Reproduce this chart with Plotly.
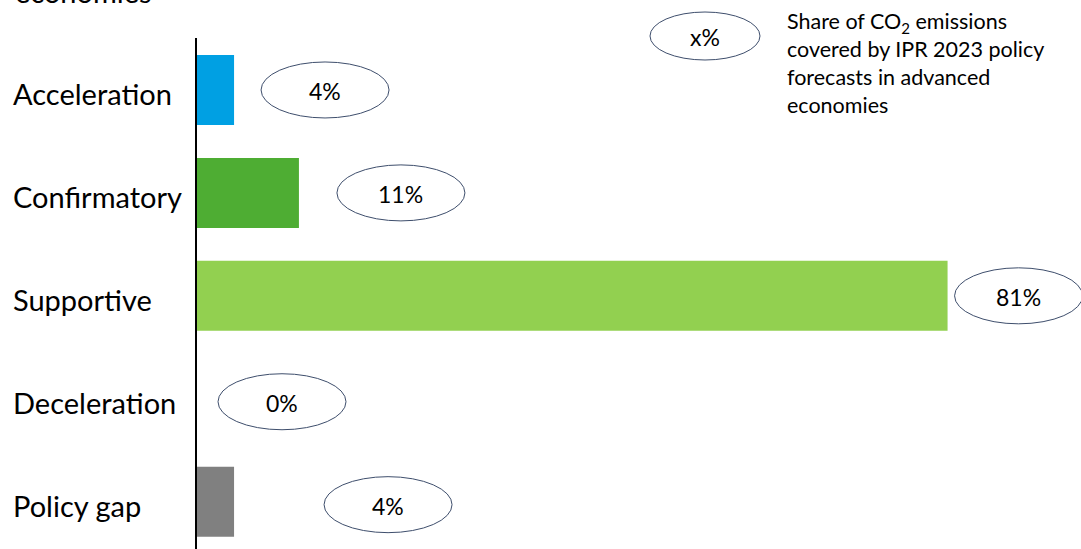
import plotly.graph_objects as go

# ---- data ----
categories = ["Acceleration", "Confirmatory", "Supportive", "Deceleration", "Policy gap"]
values = [4, 11, 81, 0, 4]
value_labels = ["4%", "11%", "81%", "0%", "4%"]
bar_colors = ["#00A0E3", "#4EAD33", "#92D050", "#FFFFFF", "#808080"]

# ---- styling / layout tweaks (pixel offsets of the ellipse label from the bar end; dy downward) ----
label_dx = [91, 102, 71, 85, 154]
label_dy = [0, 0, 0, 3, 3]
ELL_W, ELL_H = 128, 56
FONT = "Lato"
ELL_LINE = "#3E4E6C"

ypos = list(range(len(categories)))

fig = go.Figure()
fig.add_trace(go.Bar(
    x=values, y=ypos, orientation="h",
    marker=dict(color=bar_colors, line=dict(width=0)),
    width=0.68, hoverinfo="skip",
))

shapes = []
annotations = []
for i, (v, lab) in enumerate(zip(values, value_labels)):
    dx, dy = label_dx[i], label_dy[i]
    shapes.append(dict(
        type="circle", xref="x", yref="y", xsizemode="pixel", ysizemode="pixel",
        xanchor=v, yanchor=ypos[i],
        x0=dx - ELL_W / 2, x1=dx + ELL_W / 2,
        y0=-dy - ELL_H / 2, y1=-dy + ELL_H / 2,
        line=dict(color=ELL_LINE, width=1), fillcolor="rgba(0,0,0,0)",
    ))
    annotations.append(dict(
        x=v, y=ypos[i], xref="x", yref="y", text=lab, showarrow=False,
        xanchor="center", yanchor="middle",
        xshift=dx, yshift=-dy - 1, font=dict(family=FONT, size=23, color="#000"),
    ))
    # category labels, left aligned
    annotations.append(dict(
        x=-197 / 884, y=ypos[i], xref="paper", yref="y", text=categories[i],
        xanchor="left", yanchor="middle", showarrow=False, xshift=11, yshift=-4,
        font=dict(family=FONT, size=29, color="#000"),
    ))

# legend ellipse
shapes.append(dict(
    type="circle", xref="paper", yref="paper", xsizemode="pixel", ysizemode="pixel",
    xanchor=(705 - 197) / 884, yanchor=(549 - 36) / 511,
    x0=-55, x1=55, y0=-24, y1=24,
    line=dict(color=ELL_LINE, width=1), fillcolor="rgba(0,0,0,0)",
))
annotations.append(dict(
    x=(705 - 197) / 884, y=(549 - 37) / 511, xref="paper", yref="paper", text="x%",
    xanchor="center", yanchor="middle",
    showarrow=False, font=dict(family=FONT, size=23, color="#000"),
))
annotations.append(dict(
    x=(785 - 197) / 884, y=(549 - 6) / 511, xref="paper", yref="paper",
    xanchor="left", yanchor="top", align="left", showarrow=False,
    text="Share of CO<sub>2</sub> emissions<br>covered by IPR 2023 policy<br>forecasts in advanced<br>economies",
    font=dict(family=FONT, size=21.5, color="#000"),
))
# cut-off title fragment at the very top
annotations.append(dict(
    x=(13 - 197) / 884, y=(549 - 11) / 511, xref="paper", yref="paper",
    xanchor="left", yanchor="bottom", showarrow=False, text="economies",
    font=dict(family=FONT, size=29, color="#000"),
))

fig.update_layout(
    width=1081, height=549,
    margin=dict(l=197, r=0, t=38, b=0),
    paper_bgcolor="white", plot_bgcolor="white",
    showlegend=False,
    shapes=shapes, annotations=annotations,
    xaxis=dict(range=[0, 95.4], visible=False, showgrid=False, zeroline=False),
    yaxis=dict(range=[4.46, -0.505], showticklabels=False, ticks="", showgrid=False,
               zeroline=False, showline=True, linecolor="#000", linewidth=2),
)

fig.write_html("out.html")
